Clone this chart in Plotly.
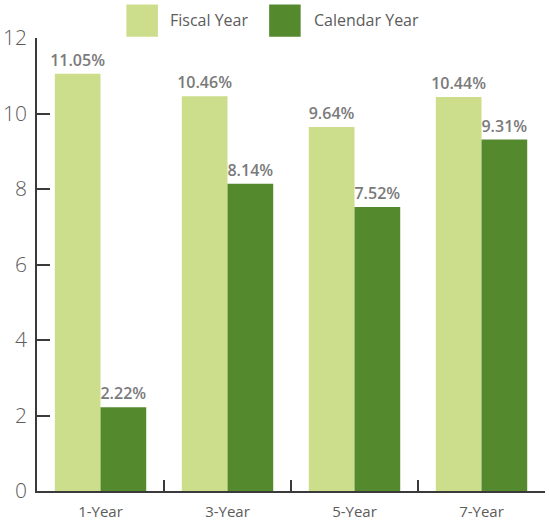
import plotly.graph_objects as go

# Annualized returns by period
periods = ["1-Year", "3-Year", "5-Year", "7-Year"]
fiscal_year = [11.05, 10.46, 9.64, 10.44]
calendar_year = [2.22, 8.14, 7.52, 9.31]
series_names = ["Fiscal Year", "Calendar Year"]
y_ticks = [0, 2, 4, 6, 8, 10, 12]

LIGHT_GREEN = "#CCDE8B"
DARK_GREEN = "#54892E"
AXIS_COLOR = "#3a3a3a"
LABEL_COLOR = "#7a7a7a"
TICK_COLOR = "#5c5c5c"
FONT = "Open Sans"

fig = go.Figure()
for name, vals, color in [
    (series_names[0], fiscal_year, LIGHT_GREEN),
    (series_names[1], calendar_year, DARK_GREEN),
]:
    fig.add_trace(go.Bar(
        x=periods,
        y=vals,
        name=name,
        marker=dict(color=color, line=dict(width=0)),
        text=[f"{v:.2f}%" for v in vals],
        textposition="outside",
        constraintext="none",
        textfont=dict(family=FONT, size=16, color=LABEL_COLOR, weight=600),
        cliponaxis=False,
    ))

fig.update_layout(
    width=549,
    height=523,
    autosize=False,
    margin=dict(l=37, r=4, t=38, b=32),
    paper_bgcolor="white",
    plot_bgcolor="white",
    barmode="group",
    bargap=0.28,
    bargroupgap=0,
    showlegend=False,
    font=dict(family=FONT),
    xaxis=dict(
        type="category",
        automargin=False,
        showline=True,
        linecolor=AXIS_COLOR,
        linewidth=1.5,
        ticks="inside",
        tickson="boundaries",
        ticklen=11,
        tickwidth=1.5,
        tickcolor=AXIS_COLOR,
        showgrid=False,
        tickfont=dict(family=FONT, size=15, color=TICK_COLOR),
        ticklabelstandoff=6,
    ),
    yaxis=dict(
        range=[0, 12],
        tickvals=y_ticks,
        automargin=False,
        showline=True,
        linecolor=AXIS_COLOR,
        linewidth=1.5,
        ticks="inside",
        ticklen=13,
        tickwidth=1.5,
        tickcolor=AXIS_COLOR,
        showgrid=False,
        zeroline=False,
        tickfont=dict(family=FONT, size=21, color=TICK_COLOR, weight=300),
        ticklabelstandoff=4,
    ),
)

# Legend drawn as large swatches above the plot area
legend_items = [
    (series_names[0], LIGHT_GREEN, 0.176, 0.258),
    (series_names[1], DARK_GREEN, 0.457, 0.541),
]
for label, color, x0, tx in legend_items:
    fig.add_shape(
        type="rect", xref="paper", yref="paper",
        x0=x0, x1=x0 + 0.062, y0=1.003, y1=1.074,
        fillcolor=color, line=dict(width=0),
    )
    fig.add_annotation(
        text=label, xref="paper", yref="paper",
        x=tx, y=1.039, xanchor="left", yanchor="middle",
        showarrow=False,
        font=dict(family=FONT, size=16, color=TICK_COLOR),
    )

fig.write_html("out.html")
